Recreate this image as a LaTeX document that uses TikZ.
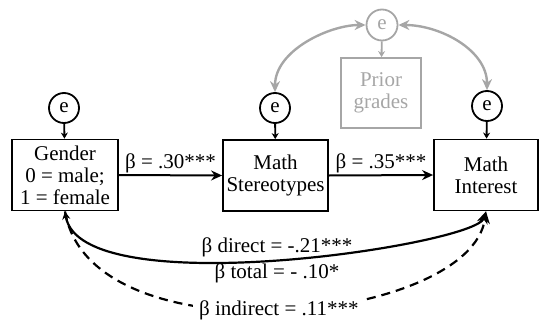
\documentclass[tikz,border=0pt]{standalone}
\usepackage{fontspec}
\setmainfont{Liberation Serif}
\usetikzlibrary{arrows.meta,calc}
\definecolor{prior}{HTML}{A6A6A6}

\begin{document}
\begin{tikzpicture}[x=1pt,y=-1pt,>=Stealth,font=\fontsize{21}{22}\selectfont,
  varbox/.style={draw,line width=1.8pt,minimum height=71pt,align=center,inner sep=1pt},
  errc/.style={draw,circle,line width=1.8pt,minimum size=30pt,inner sep=0pt},
  effarrow/.style={->,line width=2pt,>={Stealth[length=11pt,width=10pt]}},
  errarr/.style={->,line width=1.8pt,>={Stealth[length=6pt,width=7pt]}},
  corr/.style={<->,line width=2.4pt,prior,>={Stealth[length=11pt,width=10pt]}}]
\useasboundingbox (0,0) rectangle (540,321);
% observed variables
\node[varbox,minimum width=106pt] (gender) at (65,175) {Gender\\0 = male;\\1 = female};
\node[varbox,minimum width=105pt] (stereo) at (275.5,175.5) {Math\\Stereotypes};
\node[varbox,minimum width=104pt] (interest) at (486,175) {Math\\Interest};
\node[varbox,draw=prior,text=prior,minimum width=80pt,minimum height=70pt] (grades) at (381,93) {Prior\\grades};
% residuals
\node[errc] (e1) at (64,108) {e};
\node[errc] (e2) at (275,108) {e};
\node[errc] (e3) at (487,106) {e};
\node[errc,draw=prior,text=prior,minimum size=31pt] (e4) at (382,25) {e};
\draw[errarr] (e1)--(gender); \draw[errarr] (e2)--(stereo); \draw[errarr] (e3)--(interest);
\draw[errarr,prior] (e4)--(grades);
\draw[corr] (e2.north) .. controls (275,50) and (330,25) .. (e4.west);
\draw[corr] (e4.east) .. controls (440,25) and (487,50) .. (e3.north);
% paths
\draw[effarrow] (gender.east)--(stereo.west) node[midway,above=0pt,inner ysep=1pt] {β = .30***};
\draw[effarrow] (stereo.east)--(interest.west) node[midway,above=0pt,inner ysep=1pt] {β = .35***};
\draw[line width=2.2pt,dash pattern=on 9pt off 6pt,->,>={Stealth[length=12pt,width=11pt]}]
  (gender.south) .. controls (90,362) and (470,324) .. (interest.south)
  node[pos=0.5,fill=white,inner xsep=6pt,inner ysep=1pt] {β indirect = .11***};
\draw[line width=2.2pt,{Stealth[length=8pt,width=8pt]}-{Stealth[length=12pt,width=11pt]}]
  (gender.south) .. controls (80,305) and (475,245) .. (interest.south)
  node[pos=0.5,above=-2pt] {β direct = -.21***}
  node[pos=0.5,below=0pt] {β total = - .10*};
\end{tikzpicture}
\end{document}
